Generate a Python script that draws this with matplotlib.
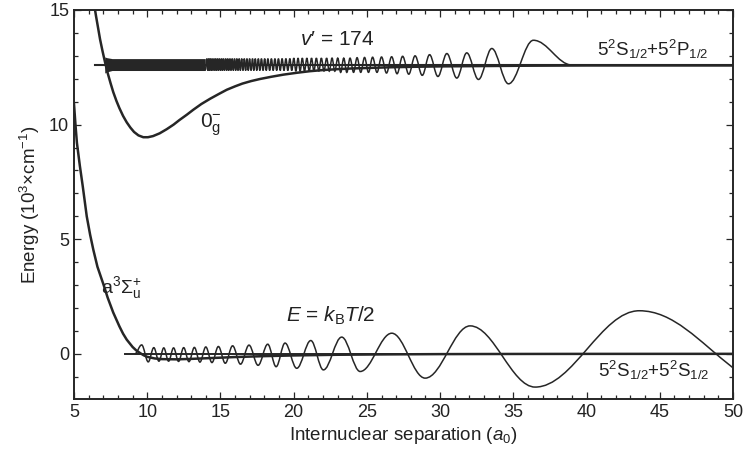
import matplotlib
matplotlib.use("Agg")
import matplotlib.pyplot as plt
from matplotlib.path import Path
from matplotlib.patches import PathPatch
from matplotlib.ticker import MultipleLocator

plt.rcParams['font.family'] = ['Liberation Sans', 'DejaVu Sans']
plt.rcParams['mathtext.fontset'] = 'custom'
plt.rcParams['mathtext.rm'] = 'Liberation Sans'
plt.rcParams['mathtext.it'] = 'Liberation Sans:italic'
plt.rcParams['mathtext.bf'] = 'Liberation Sans:bold'

INK = '#262626'

# ---- potential curves (10^3 cm^-1 vs a0) ----
triplet_r = [5.0, 5.1, 5.2, 5.4, 5.6, 5.87, 6.1, 6.32, 6.6, 7.0, 7.3, 7.68, 8.1,
             8.35, 8.6, 8.85, 9.0, 9.25, 9.5, 9.75, 10.0, 10.5, 11.0, 12.0, 13.0,
             14.5, 16.0, 18.0, 20.0, 23.0, 26.0, 30.0, 35.0, 40.0, 50.0]
triplet_e = [10.9, 10.0, 9.2, 8.2, 7.3, 6.0, 5.2, 4.54, 3.8, 3.05, 2.45, 1.8, 1.2,
             0.88, 0.62, 0.42, 0.3, 0.15, 0.04, -0.06, -0.13, -0.2, -0.23, -0.24,
             -0.22, -0.18, -0.14, -0.1, -0.07, -0.04, -0.025, -0.012, -0.005, -0.002,
             0.0]

og_r = [6.35, 6.5, 6.65, 6.78, 6.95, 7.12, 7.3, 7.5, 7.68, 7.9, 8.1, 8.35, 8.6,
        8.85, 9.1, 9.4, 9.73, 10.05, 10.4, 10.85, 11.33, 11.8, 12.2, 12.7, 13.15,
        13.7, 14.3, 14.9, 15.43, 16.0, 16.5, 17.1, 17.7, 18.5, 19.3, 20.2, 21.1,
        22.0, 23.0, 24.0, 25.0, 26.5, 28.0, 30.0, 32.0, 34.0, 36.0, 40.0, 45.0, 50.0]
og_e = [15.35, 14.75, 14.2, 13.72, 13.2, 12.72, 12.25, 11.8, 11.42, 11.03, 10.72,
        10.38, 10.1, 9.87, 9.68, 9.53, 9.45, 9.45, 9.5, 9.62, 9.8, 10.0, 10.2, 10.43,
        10.65, 10.9, 11.13, 11.34, 11.52, 11.67, 11.79, 11.9, 11.99, 12.09, 12.18,
        12.26, 12.33, 12.38, 12.42, 12.45, 12.47, 12.5, 12.52, 12.54, 12.55, 12.56,
        12.57, 12.58, 12.58, 12.58]

# ---- energy levels ----
upper_level = 12.6
upper_level_r = [6.43, 50.0]
lower_level = 0.0
lower_level_r = [8.48, 50.0]

# ---- v' = 174 wavefunction ----
# unresolved inner part: envelope of the dense oscillations
band_r = [7.1, 7.25, 7.6, 13.96]
band_top = [12.95, 12.92, 12.88, 12.88]
band_bot = [12.25, 12.30, 12.36, 12.36]

up_trough_r = [13.96, 14.14, 14.25, 14.37, 14.49, 14.62, 14.74, 14.87, 15.01, 15.14,
               15.28, 15.43, 15.57, 15.72, 15.88, 16.04, 16.20, 16.36, 16.54, 16.72,
               16.90, 17.09, 17.28, 17.48, 17.69, 17.91, 18.13, 18.36, 18.60, 18.84,
               19.08, 19.34, 19.60, 19.87, 20.15, 20.44, 20.74, 21.06, 21.38, 21.72,
               22.07, 22.43, 22.81, 23.21, 23.63, 24.09, 24.58, 25.11, 25.69, 26.34,
               27.06, 27.86, 28.78, 29.85, 31.14, 32.62, 34.67]
up_trough_e = [12.36, 12.36, 12.36, 12.36, 12.36, 12.36, 12.36, 12.36, 12.36, 12.36,
               12.36, 12.36, 12.36, 12.36, 12.36, 12.36, 12.36, 12.36, 12.36, 12.36,
               12.36, 12.36, 12.36, 12.36, 12.36, 12.36, 12.36, 12.36, 12.36, 12.36,
               12.36, 12.36, 12.36, 12.36, 12.33, 12.33, 12.33, 12.33, 12.33, 12.33,
               12.33, 12.33, 12.33, 12.28, 12.28, 12.28, 12.28, 12.28, 12.28, 12.25,
               12.22, 12.20, 12.15, 12.10, 12.03, 11.97, 11.78]
up_peak_r = [14.08, 14.20, 14.31, 14.43, 14.56, 14.68, 14.81, 14.94, 15.08, 15.21,
             15.36, 15.50, 15.65, 15.80, 15.96, 16.12, 16.28, 16.45, 16.63, 16.81,
             16.99, 17.19, 17.38, 17.59, 17.80, 18.02, 18.24, 18.48, 18.72, 18.96,
             19.21, 19.47, 19.74, 20.01, 20.30, 20.59, 20.90, 21.22, 21.55, 21.89,
             22.25, 22.62, 23.01, 23.42, 23.85, 24.33, 24.84, 25.39, 26.00, 26.69,
             27.44, 28.29, 29.28, 30.46, 31.82, 33.53, 36.37]
up_peak_e = [12.88, 12.88, 12.88, 12.88, 12.88, 12.88, 12.88, 12.88, 12.88, 12.88,
             12.88, 12.88, 12.88, 12.88, 12.88, 12.88, 12.88, 12.88, 12.88, 12.88,
             12.88, 12.88, 12.88, 12.88, 12.88, 12.88, 12.88, 12.88, 12.88, 12.88,
             12.88, 12.88, 12.88, 12.90, 12.90, 12.90, 12.90, 12.90, 12.90, 12.90,
             12.90, 12.90, 12.90, 12.90, 12.90, 12.92, 12.93, 12.94, 12.95, 12.96,
             12.98, 13.00, 13.05, 13.10, 13.13, 13.32, 13.68]
up_tail = (39.0, 12.6)

# ---- scattering wavefunction at E = kT/2 ----
low_start = (9.15, 0.0)
low_peak_r = [9.62, 10.45, 11.13, 11.80, 12.49, 13.22, 14.00, 14.86, 15.83, 16.95,
              18.23, 19.41, 21.17, 23.28, 26.70, 32.05, 43.60]
low_peak_e = [0.39, 0.27, 0.26, 0.26, 0.27, 0.28, 0.30, 0.32, 0.35, 0.38,
              0.42, 0.47, 0.58, 0.73, 0.90, 1.22, 1.88]
low_trough_r = [10.07, 10.80, 11.46, 12.14, 12.85, 13.60, 14.42, 15.33, 16.37, 17.57,
                18.80, 20.21, 22.03, 24.54, 28.98, 36.49]
low_trough_e = [-0.35, -0.32, -0.32, -0.33, -0.34, -0.36, -0.38, -0.41, -0.45, -0.50,
                -0.56, -0.63, -0.70, -0.77, -1.06, -1.45]
low_end = (50.0, -0.61)
low_end_slope = -0.5


def wave_path(knots, end_slope=None, k=0.3642):
    """Smooth path through extrema with flat tangents (cubic Bezier segments)."""
    verts = [knots[0]]
    codes = [Path.MOVETO]
    for i, ((x0, y0), (x1, y1)) in enumerate(zip(knots[:-1], knots[1:])):
        d = x1 - x0
        last = i == len(knots) - 2
        c2y = y1 - end_slope * k * d if (last and end_slope is not None) else y1
        verts += [(x0 + k * d, y0), (x1 - k * d, c2y), (x1, y1)]
        codes += [Path.CURVE4] * 3
    return Path(verts, codes)


def alternate(first_r, first_e, second_r, second_e):
    pts = []
    for i in range(len(first_r)):
        pts.append((first_r[i], first_e[i]))
        if i < len(second_r):
            pts.append((second_r[i], second_e[i]))
    return pts


fig = plt.figure(figsize=(7.46, 4.57), dpi=100)
ax = fig.add_axes([74 / 746, 58 / 457, 659 / 746, 389 / 457])

ax.plot(triplet_r, triplet_e, color=INK, lw=1.8, solid_joinstyle='round', zorder=3)
ax.plot(og_r, og_e, color=INK, lw=1.8, solid_joinstyle='round', zorder=3)
ax.plot(upper_level_r, [upper_level, upper_level], color=INK, lw=1.5, zorder=2)
ax.plot(lower_level_r, [lower_level, lower_level], color=INK, lw=1.4, zorder=2)

ax.fill_between(band_r, band_bot, band_top, color=INK, lw=0, zorder=2)
up_knots = alternate(up_trough_r, up_trough_e, up_peak_r, up_peak_e) + [up_tail]
ax.add_patch(PathPatch(wave_path(up_knots), fill=False, ec=INK, lw=1.1, zorder=2))

low_knots = [low_start] + alternate(low_peak_r, low_peak_e, low_trough_r, low_trough_e) + [low_end]
ax.add_patch(PathPatch(wave_path(low_knots, end_slope=low_end_slope), fill=False,
                       ec=INK, lw=1.1, zorder=2))

ax.set_xlim(5, 50)
ax.set_ylim(-1.97, 15)
ax.xaxis.set_major_locator(MultipleLocator(5))
ax.xaxis.set_minor_locator(MultipleLocator(1))
ax.yaxis.set_major_locator(MultipleLocator(5))
ax.yaxis.set_minor_locator(MultipleLocator(1))
ax.tick_params(which='both', direction='in', top=True, right=True, color=INK,
               width=0.9, labelsize=13, labelcolor='#222222')
ax.tick_params(which='major', length=5)
ax.tick_params(which='minor', length=2.6)
for s in ax.spines.values():
    s.set_color(INK)
    s.set_linewidth(1.4)

ax.set_xlabel(r'Internuclear separation ($a_0$)', fontsize=13.5, color='#222222', labelpad=3)
ax.set_ylabel(r'Energy (10$^3$×cm$^{-1}$)', fontsize=13.5, color='#222222', labelpad=5)

tk = dict(color='#222222', fontsize=15, va='center', ha='left')
ax.text(20.4, 13.7, "$v$\u2032 = 174", **tk)
ax.text(19.5, 1.66, r"$E$ = $k_{\mathrm{B}}T$/2", **tk)
ax.text(13.6, 10.0, r"$0_{\mathrm{g}}^{-}$", **tk)
ax.text(6.85, 2.9, r"a$^3\Sigma_{\mathrm{u}}^{+}$", color='#222222', fontsize=14,
        va='center', ha='left')
ax.text(40.7, 13.3, r"5$^2$S$_{1/2}$+5$^2$P$_{1/2}$", color='#222222', fontsize=13.5,
        va='center', ha='left')
ax.text(40.8, -0.72, r"5$^2$S$_{1/2}$+5$^2$S$_{1/2}$", color='#222222', fontsize=13.5,
        va='center', ha='left')

fig.savefig('out.png', dpi=100)
